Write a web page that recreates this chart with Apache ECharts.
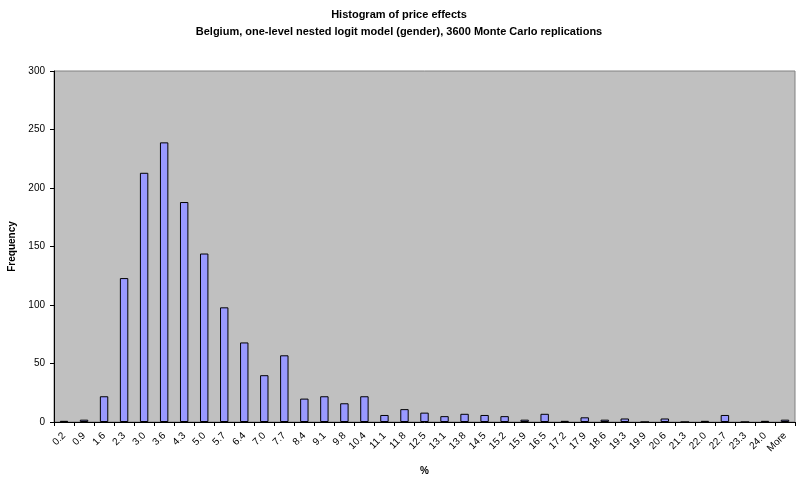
<!DOCTYPE html>
<html>
<head>
<meta charset="utf-8">
<script src="https://cdn.jsdelivr.net/npm/echarts@6/dist/echarts.min.js"></script>
<style>
html,body{margin:0;padding:0;background:#fff;}
#chart{width:798px;height:479px;}
</style>
</head>
<body>
<div id="chart"></div>
<script>
var categories = ['0.2','0.9','1.6','2.3','3.0','3.6','4.3','5.0','5.7','6.4','7.0','7.7','8.4','9.1','9.8','10.4','11.1','11.8','12.5','13.1','13.8','14.5','15.2','15.9','16.5','17.2','17.9','18.6','19.3','19.9','20.6','21.3','22.0','22.7','23.3','24.0','More'];
var frequency = [1,2,22,123,213,239,188,144,98,68,40,57,20,22,16,22,6,11,8,5,7,6,5,2,7,1,4,2,3,0,3,0,1,6,0,1,2];
var yTicks = [0,50,100,150,200,250,300];

var chart = echarts.init(document.getElementById('chart'), null, {renderer:'canvas'});
var font = 'Liberation Sans, Arial, sans-serif';
chart.setOption({
  animation: false,
  backgroundColor: '#ffffff',
  title: {
    text: 'Histogram of price effects\nBelgium, one-level nested logit model (gender), 3600 Monte Carlo replications',
    left: 'center',
    top: 1,
    textStyle: {fontFamily: font, fontSize: 11, fontWeight: 'bold', color: '#000', lineHeight: 17}
  },
  grid: {
    left: 54, right: 3, top: 71, bottom: 57,
    outerBoundsMode: 'none', containLabel: false,
    show: true, backgroundColor: '#C0C0C0', borderColor: '#808080', borderWidth: 1
  },
  xAxis: {
    type: 'category',
    data: categories,
    name: '%',
    nameLocation: 'middle',
    nameGap: 44,
    nameTextStyle: {fontFamily: font, fontSize: 10, fontWeight: 'bold', color: '#000'},
    axisLine: {lineStyle: {color: '#000', width: 1}},
    axisTick: {show: true, length: 4, lineStyle: {color: '#000'}},
    axisLabel: {rotate: 45, interval: 0, fontFamily: font, fontSize: 10, color: '#000', margin: 12},
    splitLine: {show: false}
  },
  yAxis: {
    type: 'value',
    min: yTicks[0], max: yTicks[yTicks.length-1], interval: 50,
    name: 'Frequency',
    nameLocation: 'middle',
    nameGap: 31,
    nameTextStyle: {fontFamily: font, fontSize: 10, fontWeight: 'bold', color: '#000'},
    axisLine: {show: true, lineStyle: {color: '#000', width: 1}},
    axisTick: {show: true, length: 4, lineStyle: {color: '#000'}},
    axisLabel: {fontFamily: font, fontSize: 10, color: '#000', margin: 9},
    splitLine: {show: false}
  },
  series: [{
    type: 'bar',
    data: frequency,
    barCategoryGap: '58%',
    itemStyle: {color: '#9999FF', borderColor: '#000', borderWidth: 1}
  }]
});
</script>
</body>
</html>
